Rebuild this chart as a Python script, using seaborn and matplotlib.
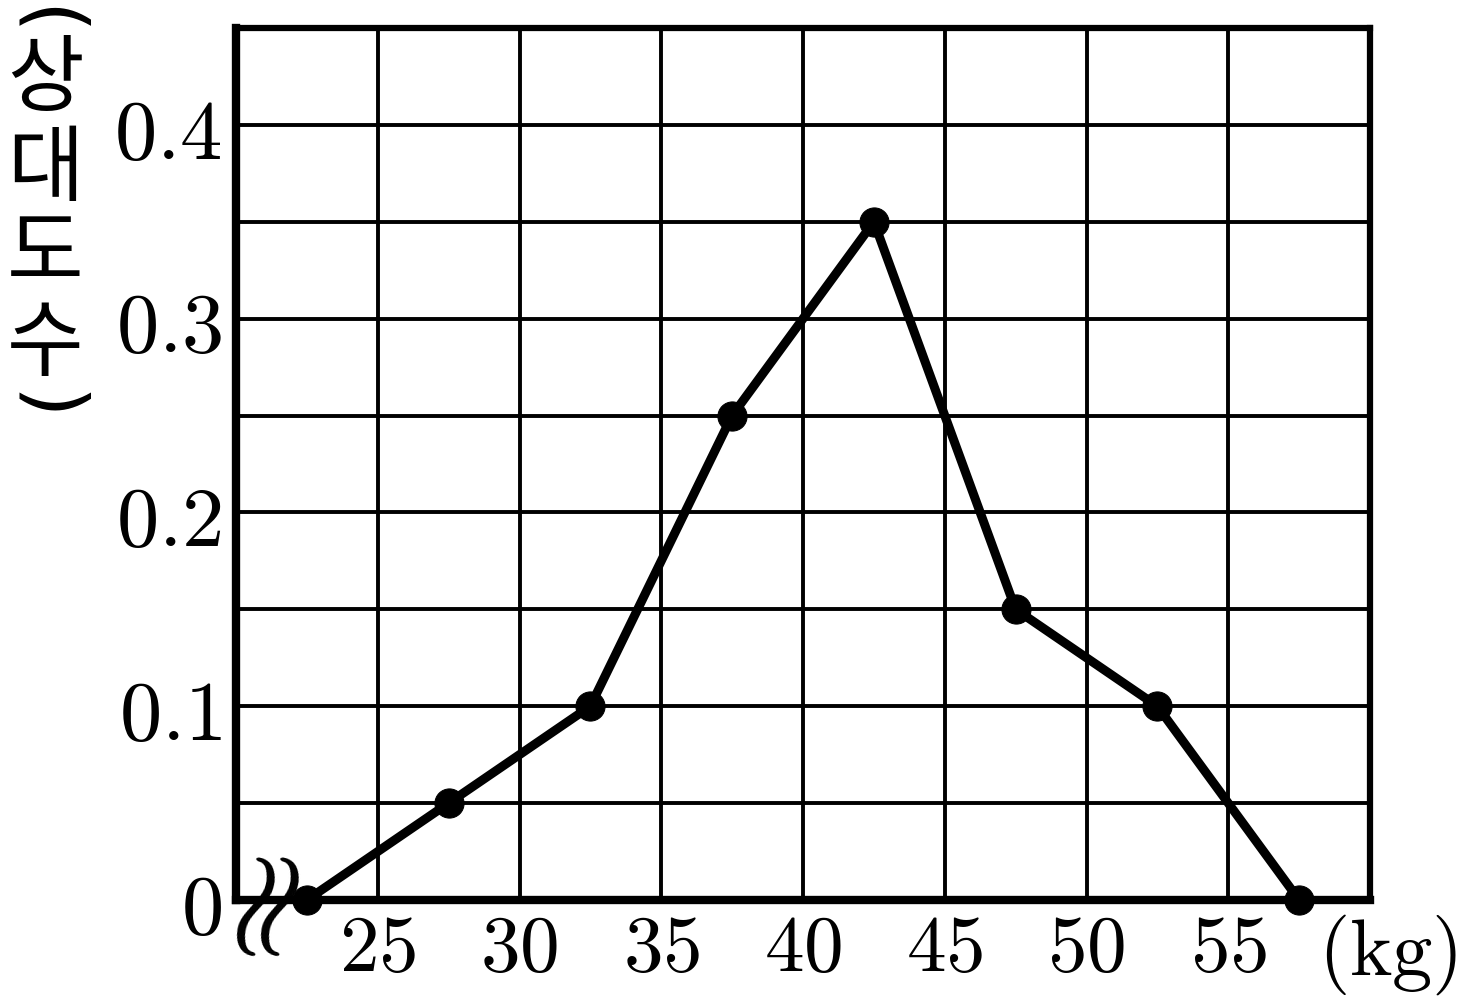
import matplotlib
matplotlib.use("Agg")
import matplotlib.pyplot as plt
import seaborn as sns
import pandas as pd

# class midpoints (kg) and relative frequencies
weight_mid = [22.5, 27.5, 32.5, 37.5, 42.5, 47.5, 52.5, 57.5]
rel_freq = [0, 0.05, 0.1, 0.25, 0.35, 0.15, 0.1, 0]

x_ticks = [25, 30, 35, 40, 45, 50, 55]
y_ticks = [0, 0.1, 0.2, 0.3, 0.4]
y_grid = [0.05, 0.1, 0.15, 0.2, 0.25, 0.3, 0.35, 0.4]
ylabel_chars = ["상", "대", "도", "수"]

sns.set_style("white")
plt.rcParams["mathtext.fontset"] = "cm"
plt.rcParams["font.family"] = ["Noto Sans CJK KR", "DejaVu Sans"]
plt.rcParams["text.color"] = "black"
plt.rcParams["xtick.color"] = "black"
plt.rcParams["ytick.color"] = "black"

df = pd.DataFrame({"weight": weight_mid, "freq": rel_freq})

fig = plt.figure(figsize=(14.64, 10.06), dpi=100)
ax = fig.add_axes([236 / 1464, 106 / 1006, 1134 / 1464, 872 / 1006])

# grid
for xv in x_ticks:
    ax.axvline(xv, color="black", lw=2.8, zorder=1)
for yv in y_grid:
    ax.axhline(yv, color="black", lw=2.8, zorder=1)

sns.lineplot(data=df, x="weight", y="freq", ax=ax, color="black", lw=6.5,
             marker="o", markersize=21, markeredgecolor="black", clip_on=False, zorder=5)

ax.set_xlim(20, 60)
ax.set_ylim(0, 0.45)
ax.set_xticks(x_ticks)
ax.set_xticklabels([rf"${v}$" for v in x_ticks], fontsize=57)
ax.set_yticks(y_ticks)
ax.set_yticklabels(["$0$"] + [rf"${v}$" for v in y_ticks[1:]], fontsize=61)
ax.tick_params(axis="both", length=0)
ax.tick_params(axis="x", pad=6)
ax.tick_params(axis="y", pad=10)
ax.set_xlabel("")
ax.set_ylabel("")

for side in ["top", "right"]:
    ax.spines[side].set_linewidth(4.5)
for side in ["left", "bottom"]:
    ax.spines[side].set_linewidth(6)
for sp in ax.spines.values():
    sp.set_color("black")
    sp.set_zorder(4)

# unit on x axis
ax.text(1.016, -0.063, r"$(\mathrm{kg})$", transform=ax.transAxes,
        ha="center", va="center", fontsize=58)

# axis break mark: two slanted wreath signs
for bx in [253, 277]:
    fig.text(bx / 1464, 1 - 901 / 1006, r"$\wr$", ha="center", va="center",
             fontsize=105, rotation=-15, zorder=6)

# vertical y label
fig.text(45 / 1464, 1 - 22 / 1006, "(", rotation=-90, ha="center", va="center",
         fontsize=58, family="DejaVu Sans")
char_y = [80, 170, 255, 345]
for ch, yp in zip(ylabel_chars, char_y):
    fig.text(45 / 1464, 1 - yp / 1006, ch, ha="center", va="center", fontsize=60)
fig.text(45 / 1464, 1 - 407 / 1006, ")", rotation=-90, ha="center", va="center",
         fontsize=58, family="DejaVu Sans")

fig.savefig("out.png", dpi=100)
